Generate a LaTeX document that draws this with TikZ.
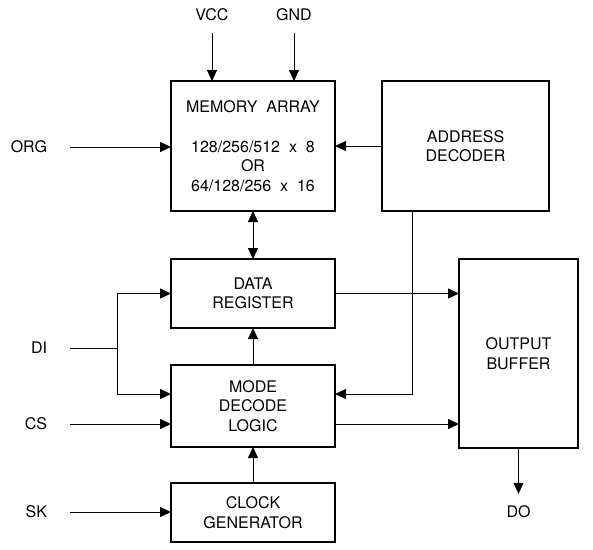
\documentclass[tikz,border=0pt]{standalone}
\usepackage{fontspec}
\setmainfont{TeX Gyre Heros}
\usetikzlibrary{arrows.meta,positioning}

\begin{document}
\begin{tikzpicture}[
  x=1pt, y=-1pt,
  blk/.style={rectangle, draw, line width=2pt, outer sep=0pt, inner sep=0pt,
              minimum width=164pt, align=center,
              font=\fontsize{16}{19.5}\selectfont},
  sig/.style={inner sep=0pt, font=\fontsize{16}{19.5}\selectfont},
  wire/.style={line width=0.9pt},
  arr/.style={-{Triangle[length=11pt,width=10pt]}, line width=0.9pt},
  node distance=48pt
]
  \useasboundingbox (0,0) rectangle (593,549);

  % blocks
  \node[blk, minimum height=130pt] (mem) at (253,146)
    {MEMORY~ ARRAY\\[20.5pt]
     128/256/512~ x~ 8\\ OR\\ 64/128/256~ x~ 16};
  \node[blk, minimum width=167pt, minimum height=130pt, right=47pt of mem] (addr)
    {ADDRESS\\ DECODER};
  \node[blk, minimum height=69pt, below=48pt of mem] (data)
    {DATA\\ REGISTER};
  \node[blk, minimum height=82pt, below=37pt of data] (mode)
    {MODE\\ DECODE\\ LOGIC};
  \node[blk, minimum height=59pt, below=36pt of mode] (clock)
    {CLOCK\\ GENERATOR};
  \node[blk, minimum width=119pt, minimum height=189pt,
        right=124pt of data.north east, anchor=north west] (out)
    {OUTPUT\\ BUFFER};

  % pins
  \node[sig, anchor=east, outer xsep=23pt] (org) at (70,147) {ORG};
  \node[sig, anchor=east, outer xsep=23pt] (di)  at (70,348) {DI};
  \node[sig, anchor=east, outer xsep=23pt] (cs)  at (70,424) {CS};
  \node[sig, anchor=east, outer xsep=23pt] (sk)  at (70,512) {SK};
  \node[sig, outer ysep=12pt] (vcc) at (212,15) {VCC};
  \node[sig, outer ysep=12pt] (gnd) at (294,15) {GND};
  \node[sig, outer ysep=12pt] (do)  at (out.south |- 0,512) {DO};
  \coordinate (dij) at (117,348);

  % connections
  \draw[arr] (vcc) -- (vcc |- mem.north);
  \draw[arr] (gnd) -- (gnd |- mem.north);
  \draw[arr] (org) -- (org -| mem.west);
  \draw[arr] (addr) -- (mem);
  \draw[{Triangle[length=11pt,width=10pt]}-{Triangle[length=11pt,width=10pt]}, line width=0.9pt]
    (mem) -- (data);
  \draw[wire] (di) -- (dij);
  \draw[arr] (dij) |- (data.west);
  \draw[arr] (dij) |- ([yshift=12pt]mode.west);
  \draw[arr] (cs) -- (cs -| mode.west);
  \draw[arr] (sk) -- (sk -| clock.west);
  \draw[arr] (mode) -- (data);
  \draw[arr] (clock) -- (mode);
  \draw[arr] ([xshift=-53.5pt]addr.south) |- ([yshift=12pt]mode.east);
  \draw[arr] (data.east) -- (data.east -| out.west);
  \draw[arr] ([yshift=-18pt]mode.east) -- ([yshift=-18pt]mode.east -| out.west);
  \draw[arr] (out.south) -- (do);
\end{tikzpicture}
\end{document}
